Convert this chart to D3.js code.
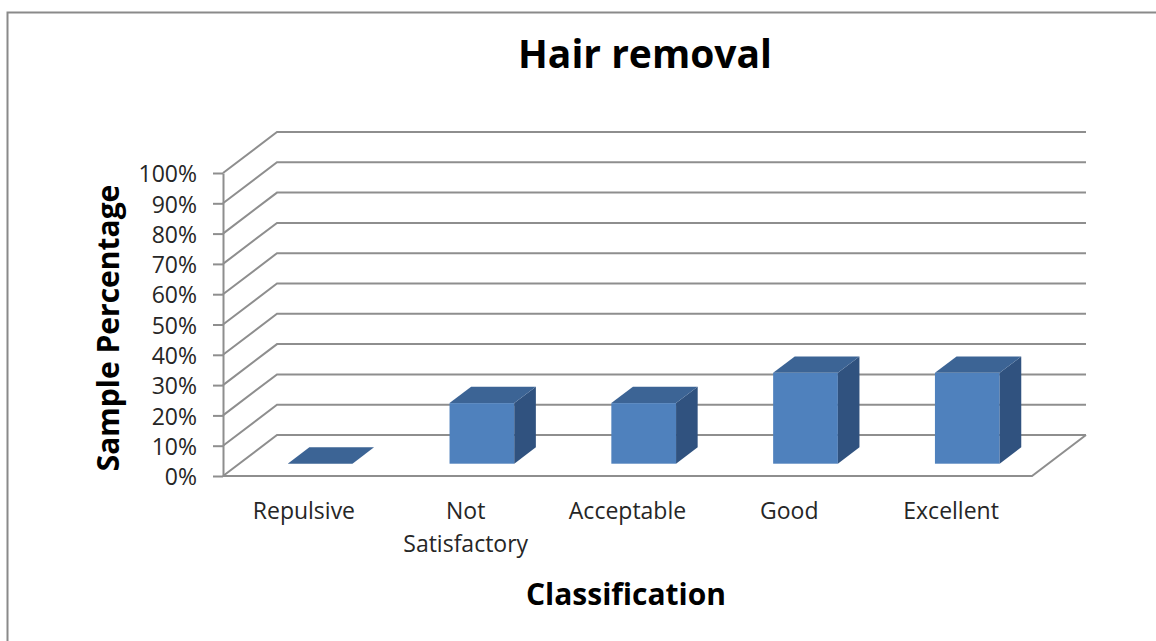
<!DOCTYPE html>
<html>
<head>
<meta charset="utf-8">
<script src="https://cdn.jsdelivr.net/npm/d3@7"></script>
<style>
  body { margin: 0; background: #fff; }
  text { font-family: "Open Sans", sans-serif; }
</style>
</head>
<body>
<div class="chart"></div>
<script>
var categories = ["Repulsive", "Not Satisfactory", "Acceptable", "Good", "Excellent"];
var values = [0, 0.2, 0.2, 0.3, 0.3];
var yTicks = [0, 0.1, 0.2, 0.3, 0.4, 0.5, 0.6, 0.7, 0.8, 0.9, 1.0];

var width = 1156, height = 641;
// front plane of the plot and the depth vector of the 3d box
var plotLeft = 223, plotRight = 1032, plotBottom = 476, plotTop = 173;
var depth = {dx: 54, dy: -41};
var barZ0 = 0.3, barZ1 = 0.7;
var gridColor = '#8e8e8e';

var svg = d3.select('.chart')
  .append('svg')
    .attr('width', width)
    .attr('height', height);

// outer border
svg.append('rect')
  .attr('x', 7.5).attr('y', 12.5)
  .attr('width', 1160).attr('height', 650)
  .attr('fill', 'none')
  .attr('stroke', '#8a8a8a')
  .attr('stroke-width', 2);

var xScale = d3.scaleBand()
  .domain(categories)
  .range([plotLeft, plotRight])
  .paddingInner(0.6)
  .paddingOuter(0.3);

var yScale = d3.scaleLinear()
  .domain([0, 1])
  .range([plotBottom, plotTop]);

// side wall + back wall gridlines
svg.append('g')
  .selectAll('path')
  .data(yTicks)
  .enter()
  .append('path')
    .attr('fill', 'none')
    .attr('stroke', gridColor)
    .attr('stroke-width', 2)
    .attr('d', d => {
      var yy = yScale(d);
      return `M${plotLeft},${yy}L${plotLeft + depth.dx},${yy + depth.dy}L${plotRight + depth.dx},${yy + depth.dy}`;
    });

// floor front and right edges
svg.append('path')
  .attr('fill', 'none')
  .attr('stroke', gridColor)
  .attr('stroke-width', 2)
  .attr('d', `M${plotLeft},${yScale(0)}L${plotRight},${yScale(0)}L${plotRight + depth.dx},${yScale(0) + depth.dy}`);

// y axis
var yAxis = svg.append('g')
  .attr('transform', `translate(${plotLeft}, 0)`)
  .call(d3.axisLeft(yScale)
    .tickValues(yTicks)
    .tickSize(10)
    .tickSizeOuter(0)
    .tickPadding(16)
    .tickFormat(d3.format('.0%')));

yAxis.select('.domain').attr('stroke', gridColor).attr('stroke-width', 2);
yAxis.selectAll('.tick line').attr('stroke', gridColor).attr('stroke-width', 2);
yAxis.selectAll('.tick text')
  .attr('font-size', 23)
  .attr('fill', '#262626')
  .attr('dy', '0.38em')
  .style('font-family', '"Open Sans", sans-serif');

// x axis labels
var xAxis = svg.append('g')
  .attr('transform', `translate(0, ${plotBottom})`)
  .call(d3.axisBottom(xScale).tickSize(0).tickPadding(27));

xAxis.select('.domain').remove();
xAxis.selectAll('.tick text')
  .attr('font-size', 23)
  .attr('fill', '#262626')
  .style('font-family', '"Open Sans", sans-serif')
  .each(function(d) {
    var t = d3.select(this);
    var words = d.split(' ');
    t.text(null);
    words.forEach((w, i) => {
      t.append('tspan')
        .attr('x', 0)
        .attr('dy', i == 0 ? '0.71em' : '1.4em')
        .text(w);
    });
  });

// bars
var ox0 = depth.dx * barZ0, oy0 = depth.dy * barZ0;
var ox1 = depth.dx * barZ1, oy1 = depth.dy * barZ1;
var bw = xScale.bandwidth();

var bars = svg.append('g')
  .selectAll('g')
  .data(categories.map((c, i) => ({c: c, v: values[i]})))
  .enter()
  .append('g');

bars.each(function(d) {
  var g = d3.select(this);
  var xl = xScale(d.c), xr = xl + bw;
  var yt = yScale(d.v), yb = yScale(0);
  if (d.v > 0) {
    g.append('rect')
      .attr('x', xl + ox0).attr('y', yt + oy0)
      .attr('width', bw).attr('height', yb - yt)
      .attr('fill', '#4f81bd');
    g.append('path')
      .attr('fill', '#30527f')
      .attr('d', `M${xr + ox0},${yt + oy0}L${xr + ox1},${yt + oy1}L${xr + ox1},${yb + oy1}L${xr + ox0},${yb + oy0}Z`);
  }
  g.append('path')
    .attr('fill', '#3c6495')
    .attr('d', `M${xl + ox0},${yt + oy0}L${xr + ox0},${yt + oy0}L${xr + ox1},${yt + oy1}L${xl + ox1},${yt + oy1}Z`);
});

// titles
svg.append('text')
  .attr('x', 645).attr('y', 68)
  .attr('text-anchor', 'middle')
  .attr('font-size', 39)
  .attr('font-weight', 'bold')
  .text('Hair removal');

svg.append('text')
  .attr('x', 626).attr('y', 605)
  .attr('text-anchor', 'middle')
  .attr('font-size', 30)
  .attr('font-weight', 'bold')
  .text('Classification');

svg.append('text')
  .attr('transform', 'translate(119, 328) rotate(-90)')
  .attr('text-anchor', 'middle')
  .attr('font-size', 30)
  .attr('font-weight', 'bold')
  .text('Sample Percentage');
</script>
</body>
</html>
